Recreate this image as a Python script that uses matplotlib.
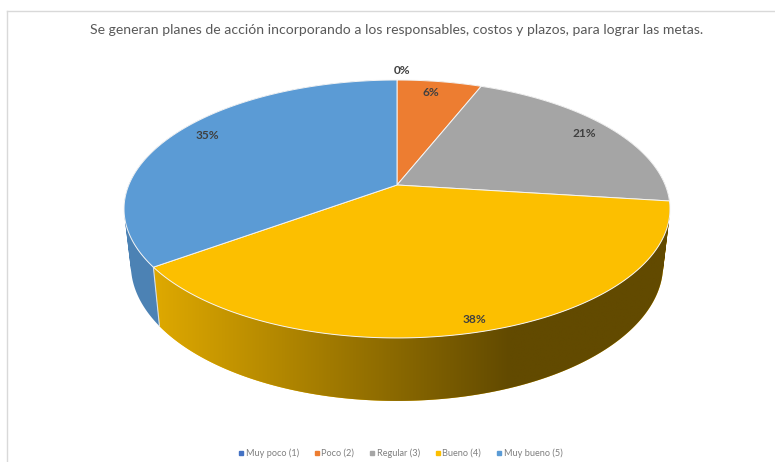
import matplotlib
matplotlib.use("Agg")
import matplotlib.pyplot as plt
from matplotlib.lines import Line2D
from matplotlib.patches import PathPatch
from matplotlib.path import Path
import numpy as np

title = "Se generan planes de acción incorporando a los responsables, costos y plazos, para lograr las metas."
categories = ["Muy poco (1)", "Poco (2)", "Regular (3)", "Bueno (4)", "Muy bueno (5)"]
values = [0, 6, 21, 38, 35]
colors = ["#4472C4", "#ED7D31", "#A5A5A5", "#FCBF00", "#5B9BD5"]
side_colors = ["#3A5F9F", "#B85F22", "#7D7D7D", "#FCBF00", "#4C82B4"]

# value label placement: fraction of the pie radius and angle shift in degrees
label_radius = [1.115, 0.87, 0.88, 0.93, 0.88]
label_shift = [0, -1, 0, -0.6, 2.5]

plt.rcParams["font.family"] = ["Lato", "DejaVu Sans"]

# pie tilted in perspective: hub position and scale factors of the top face
CX, CY = 397.0, 185.0
SX, SY = 268.2, 124.5
PERSP = 0.186
# lower rim of the side wall
DEPTH_Y, DEPTH_SX, DEPTH_SY = 239.4, 0.975, 1.056


def project(theta, r=1.0):
    # theta in degrees, clockwise from twelve o'clock
    t = np.radians(theta)
    u, v = r * np.sin(t), r * np.cos(t)
    w = 1 + PERSP * v
    return CX + SX * u / w, CY - SY * v / w


def project_low(theta):
    x, y = project(theta)
    return CX + DEPTH_SX * (x - CX), DEPTH_Y + DEPTH_SY * (y - CY)


def wall_path(t_start, t_end):
    # union of small quads, so the outline follows the tangent between both rims
    ts = np.linspace(t_start, t_end, int((t_end - t_start) * 2) + 2)
    quads = []
    for t0, t1 in zip(ts[:-1], ts[1:]):
        pts = np.array([project(t0), project(t1), project_low(t1), project_low(t0)])
        x, y = pts[:, 0], pts[:, 1]
        area = np.sum(x * np.roll(y, -1) - np.roll(x, -1) * y)
        # same winding everywhere, otherwise overlapping quads punch holes
        if area < 0:
            pts = pts[::-1]
        quads.append(Path(np.vstack([pts, pts[0]]), closed=True))
    return Path.make_compound_path(*quads)


fig = plt.figure(figsize=(7.75, 4.62), dpi=100)
ax = fig.add_axes([0, 0, 1, 1])
ax.axis("off")

# frame lines of the chart area (only top and left are visible)
ax.plot([7, 775], [11, 11], color="#D9D9D9", lw=1.0)
ax.plot([7, 7], [11, 462], color="#D9D9D9", lw=1.0)

edges = np.concatenate([[0], np.cumsum(values)]) / np.sum(values) * 360.0

# side wall of each slice, the top face covers the hidden part
for i, val in enumerate(values):
    if val == 0:
        continue
    wall = PathPatch(wall_path(edges[i], edges[i + 1]), facecolor=side_colors[i],
                     edgecolor="none", zorder=2)
    ax.add_patch(wall)
    if i == 3:
        # this wall darkens from left to right, then stays flat
        x_grad = np.linspace(150, 700, 512)
        f = np.clip((x_grad - 150) / 360.0, 0, 1)
        rgb = np.outer(1 - f, [224, 170, 0]) + np.outer(f, [98, 74, 0])
        img = ax.imshow(rgb[None, :, :] / 255.0, extent=(150, 700, 420, 180),
                        aspect="auto", zorder=2.5, interpolation="bilinear")
        img.set_clip_path(wall)

# thin light edge between the blue and yellow walls
x0, y0 = project(edges[4])
x1, y1 = project_low(edges[4])
ax.plot([x0, x1], [y0, y1], color="#D5DFE8", lw=0.8, zorder=3)

# top face
for i, val in enumerate(values):
    if val == 0:
        continue
    ts = np.linspace(edges[i], edges[i + 1], 200)
    xs, ys = project(ts)
    ax.fill(np.r_[CX, xs], np.r_[CY, ys], facecolor=colors[i],
            edgecolor="#F4F4F4", lw=0.7, joinstyle="round", zorder=4)

# value labels at the middle of each slice
for i, val in enumerate(values):
    mid = (edges[i] + edges[i + 1]) / 2 + label_shift[i]
    x, y = project(mid, label_radius[i])
    if val == 0:
        x += 5
    ax.text(x, y, f"{val}%", ha="center", va="center", fontsize=8.6,
            fontweight="bold", color="#404040", zorder=5)

ax.text(397, 30, title, ha="center", va="center", fontsize=10.1, color="#595959")

ax.set_xlim(0, 775)
ax.set_ylim(462, 0)

handles = [Line2D([], [], ls="none", marker="s", ms=2.6, color=c) for c in colors]
ax.legend(handles, categories, loc="center", bbox_to_anchor=(400 / 775, 1 - 453 / 462),
          ncol=5, frameon=False, fontsize=6.6, labelcolor="#7F7F7F",
          handletextpad=0.1, columnspacing=1.55, handlelength=0.8, borderpad=0)

fig.savefig("out.png", dpi=100)
